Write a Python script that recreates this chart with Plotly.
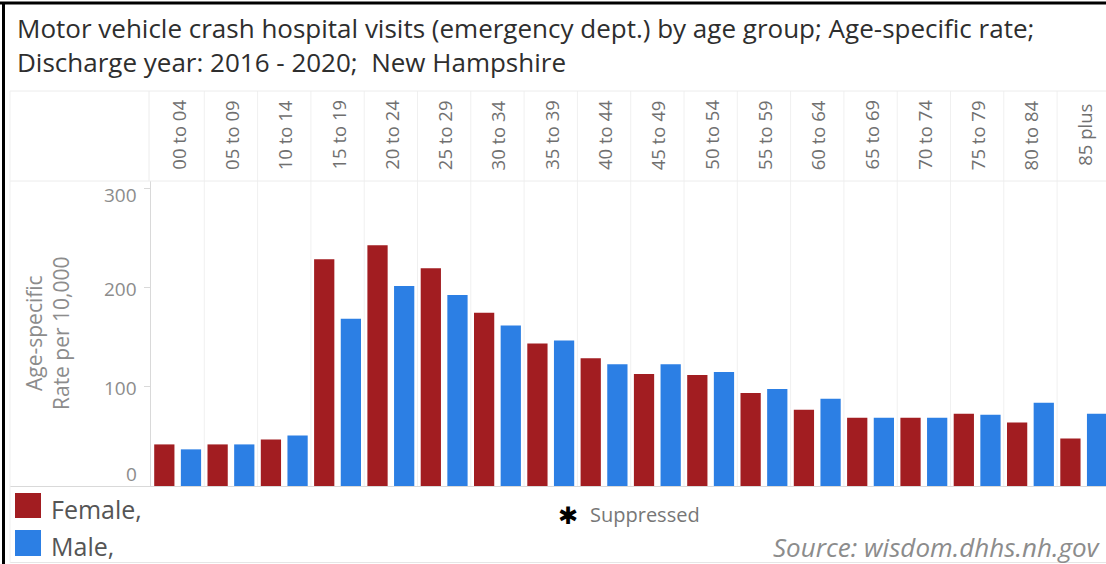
import plotly.graph_objects as go

# ---- data ----
age_groups = ["00 to 04", "05 to 09", "10 to 14", "15 to 19", "20 to 24", "25 to 29",
              "30 to 34", "35 to 39", "40 to 44", "45 to 49", "50 to 54", "55 to 59",
              "60 to 64", "65 to 69", "70 to 74", "75 to 79", "80 to 84", "85 plus"]
female_rate = [42, 42, 47, 229, 243, 220, 175, 144, 129, 113, 112, 94, 77, 69, 69, 73, 64, 48]
male_rate = [37, 42, 51, 169, 202, 193, 162, 147, 123, 123, 115, 98, 88, 69, 69, 72, 84, 73]
y_ticks = [0, 100, 200, 300]
series_names = ["Female,", "Male,"]

RED = "#a21d21"
BLUE = "#2c7fe4"
FONT = "Open Sans"

W, H = 1106, 564
L, R, T, B = 151, 1106, 181, 486
PW, PH = R - L, B - T


def px(x):
    return (x - L) / PW


def py(y):
    return (B - y) / PH


fig = go.Figure()
fig.add_trace(go.Bar(x=age_groups, y=female_rate, name=series_names[0],
                     marker=dict(color=RED, line=dict(width=0)), showlegend=False))
fig.add_trace(go.Bar(x=age_groups, y=male_rate, name=series_names[1],
                     marker=dict(color=BLUE, line=dict(width=0)), showlegend=False))

shapes = []
ann = []
LIGHT = "#ececec"
# column separators (header + plot)
for i in range(1, len(age_groups)):
    shapes.append(dict(type="line", xref="x", yref="paper", x0=i - 0.5, x1=i - 0.5,
                       y0=0, y1=py(91), line=dict(color="#f0f0f0", width=1), layer="below"))
shapes.append(dict(type="line", xref="paper", yref="paper", x0=px(149), x1=px(149),
                   y0=py(181), y1=py(91), line=dict(color=LIGHT, width=1)))
# horizontal separators
for yy in (91, 181):
    shapes.append(dict(type="line", xref="paper", yref="paper", x0=px(10), x1=px(W),
                       y0=py(yy), y1=py(yy), line=dict(color=LIGHT, width=1)))
shapes.append(dict(type="line", xref="paper", yref="paper", x0=px(10), x1=px(W),
                   y0=py(486.5), y1=py(486.5), line=dict(color="#d9d9d9", width=1)))
shapes.append(dict(type="line", xref="paper", yref="paper", x0=px(10), x1=px(W),
                   y0=py(562.5), y1=py(562.5), line=dict(color="#e6e6e6", width=1)))
shapes.append(dict(type="line", xref="paper", yref="paper", x0=px(10), x1=px(10),
                   y0=py(91), y1=py(563), line=dict(color="#f0f0f0", width=1)))
# black outer border (top and left)
shapes.append(dict(type="line", xref="paper", yref="paper", x0=px(0), x1=px(W),
                   y0=py(3), y1=py(3), line=dict(color="#000000", width=3)))
shapes.append(dict(type="line", xref="paper", yref="paper", x0=px(3.5), x1=px(3.5),
                   y0=py(2), y1=py(H), line=dict(color="#000000", width=3)))
# legend squares
shapes.append(dict(type="rect", xref="paper", yref="paper", x0=px(15), x1=px(41),
                   y0=py(493), y1=py(518), fillcolor=RED, line=dict(width=0)))
shapes.append(dict(type="rect", xref="paper", yref="paper", x0=px(15), x1=px(41),
                   y0=py(530), y1=py(556), fillcolor=BLUE, line=dict(width=0)))

# title (two lines in one text block)
ann.append(dict(xref="paper", yref="paper", x=px(15), y=py(45), xanchor="left", yanchor="middle",
                align="left",
                text="Motor vehicle crash hospital visits (emergency dept.) by age group; Age-specific rate;"
                     "<br>Discharge year: 2016 - 2020;&nbsp; New Hampshire",
                showarrow=False, font=dict(family=FONT, size=26, color="#2e2e2e")))
# column headers
for g in age_groups:
    ann.append(dict(xref="x", yref="paper", x=g, y=py(135), xanchor="center", yanchor="middle",
                    text=g, textangle=-90, showarrow=False,
                    font=dict(family=FONT, size=18.5, color="#707070")))
# y tick labels (Tableau keeps end labels inside the axis range)
for k, v in enumerate(y_ticks):
    shift = 12 if k == 0 else (-6 if k == len(y_ticks) - 1 else -1)
    ann.append(dict(xref="paper", yref="y", x=px(139), y=v, xanchor="right", yanchor="middle",
                    yshift=shift, text=str(v), showarrow=False,
                    font=dict(family=FONT, size=19, color="#8c8c8c")))
# y axis title (two lines)
ann.append(dict(xref="paper", yref="paper", x=px(34), y=py(333), xanchor="center", yanchor="middle",
                text="Age-specific", textangle=-90, showarrow=False,
                font=dict(family=FONT, size=21, color="#8c8c8c")))
ann.append(dict(xref="paper", yref="paper", x=px(61), y=py(333), xanchor="center", yanchor="middle",
                text="Rate per 10,000", textangle=-90, showarrow=False,
                font=dict(family=FONT, size=21, color="#8c8c8c")))
# legend text
ann.append(dict(xref="paper", yref="paper", x=px(49), y=py(509), xanchor="left", yanchor="middle",
                text=series_names[0], showarrow=False, font=dict(family=FONT, size=25, color="#555555")))
ann.append(dict(xref="paper", yref="paper", x=px(49), y=py(546), xanchor="left", yanchor="middle",
                text=series_names[1], showarrow=False, font=dict(family=FONT, size=25, color="#555555")))
# suppressed note
ann.append(dict(xref="paper", yref="paper", x=px(568), y=py(516), xanchor="center", yanchor="middle",
                text="<b>✱</b>", showarrow=False, font=dict(family="DejaVu Sans", size=24, color="#000000")))
ann.append(dict(xref="paper", yref="paper", x=px(588), y=py(514), xanchor="left", yanchor="middle",
                text="Suppressed", showarrow=False, font=dict(family=FONT, size=20, color="#777777")))
# source
ann.append(dict(xref="paper", yref="paper", x=px(1103), y=py(547), xanchor="right", yanchor="middle",
                text="<i>Source: wisdom.dhhs.nh.gov</i>", showarrow=False,
                font=dict(family=FONT, size=26, color="#8c8c8c")))

fig.update_layout(
    width=W, height=H,
    margin=dict(l=L, r=W - R, t=T, b=H - B, pad=0),
    paper_bgcolor="white", plot_bgcolor="white",
    barmode="group", bargap=0, bargroupgap=0.24,
    shapes=shapes, annotations=ann,
    font=dict(family=FONT),
    xaxis=dict(type="category", range=[-0.5, -0.5 + PW / 53.3], showticklabels=False,
               showgrid=False, zeroline=False, showline=False, ticks=""),
    yaxis=dict(range=[0, 308], tickvals=y_ticks, showticklabels=False, showgrid=False,
               zeroline=False, showline=True, linecolor="#d9d9d9", linewidth=1,
               ticks="outside", ticklen=6, tickcolor="#d9d9d9"),
)

fig.write_html("out.html", config={"displayModeBar": False},
               post_script="document.body.style.margin='0';document.body.style.overflow='hidden';")
